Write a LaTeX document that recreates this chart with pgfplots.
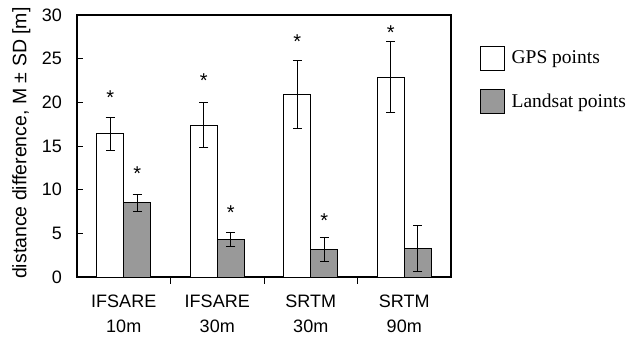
\documentclass[border=0pt]{standalone}
\usepackage{fontspec}
\setmainfont{Liberation Sans}
\newfontfamily\timesfont{Liberation Serif}
\usepackage{pgfplots}
\pgfplotsset{compat=1.18}
\definecolor{barGray}{RGB}{153,153,153}
\pgfplotsset{
  /pgfplots/ybar legend/.style={
    /pgfplots/legend image code/.code={\draw[##1,line width=0.9pt] (0pt,-12pt) rectangle (24pt,12pt);}
  }
}
\begin{document}
\begin{tikzpicture}
\path[use as bounding box] (-77pt,-64pt) rectangle (552pt,277pt);
\begin{axis}[
  at={(0pt,0pt)}, anchor=south west,
  scale only axis, width=374pt, height=262pt,
  ybar, bar width=27pt,
  xmin=-0.5, xmax=3.5, ymin=0, ymax=30,
  clip=false,
  axis line style={line width=1.1pt},
  ytick={0,5,10,15,20,25,30},
  xtick={0.5,1.5,2.5},
  xticklabels={},
  extra x ticks={0,1,2,3},
  extra x tick labels={IFSARE\\10m, IFSARE\\30m, SRTM\\30m, SRTM\\90m},
  extra x tick style={/pgfplots/major tick length=0pt},
  tick style={line width=0.9pt, black},
  major tick length=6.5pt,
  xtick pos=bottom, ytick pos=left,
  /pgf/number format/assume math mode=true,
  xticklabel style={font=\fontsize{18}{25}\selectfont, align=center, inner sep=0pt, yshift=-18pt},
  yticklabel style={font=\fontsize{18}{20}\selectfont, inner sep=0pt, xshift=-15pt},
  every axis y label/.style={at={(axis description cs:-0.1738,0.511)}, rotate=90, anchor=north, inner sep=0pt, font=\fontsize{19.5}{20}\selectfont},
  ylabel={distance difference, M ± SD [m]},
  legend style={at={(1,1)}, anchor=north west, xshift=29pt, yshift=-30.7pt,
    draw=none, fill=none, inner sep=0pt, outer sep=0pt,
    row sep=18.4pt, column sep=6.7pt,
    nodes={inner sep=0pt},
    font=\timesfont\fontsize{19.5}{22}\selectfont},
  legend cell align=left,
]
\addplot[bar shift=-13.5pt, draw=black, fill=white, line width=0.9pt,
  error bars/.cd, y dir=both, y explicit,
  error bar style={black, line width=0.9pt},
  error mark options={black, rotate=90, mark size=4.5pt, line width=0.9pt}]
  table[x=x, y=y, y error=e] {
x y e
0 16.4 1.9
1 17.4 2.55
2 20.9 3.85
3 22.9 4.1
};
\addlegendentry{GPS points}
\addplot[bar shift=13.5pt, draw=black, fill=barGray, line width=0.9pt,
  error bars/.cd, y dir=both, y explicit,
  error bar style={black, line width=0.9pt},
  error mark options={black, rotate=90, mark size=4.5pt, line width=0.9pt}]
  table[x=x, y=y, y error=e] {
x y e
0 8.5 0.95
1 4.35 0.8
2 3.17 1.35
3 3.3 2.65
};
\addlegendentry{Landsat points}
% significance stars (centre heights)
\addplot[bar shift=-13.5pt, draw=none, fill=none, forget plot, nodes near coords={*},
  every node near coord/.append style={anchor=base, yshift=-11pt, inner sep=0pt, font=\fontsize{20}{20}\selectfont, text=black}]
  coordinates {(0,21.0) (1,23.0) (2,27.4) (3,28.5)};
\addplot[bar shift=13.5pt, draw=none, fill=none, forget plot, nodes near coords={*},
  every node near coord/.append style={anchor=base, yshift=-11pt, inner sep=0pt, font=\fontsize{20}{20}\selectfont, text=black}]
  coordinates {(0,12.3) (1,7.9) (2,6.9)};
\end{axis}
\end{tikzpicture}
\end{document}
